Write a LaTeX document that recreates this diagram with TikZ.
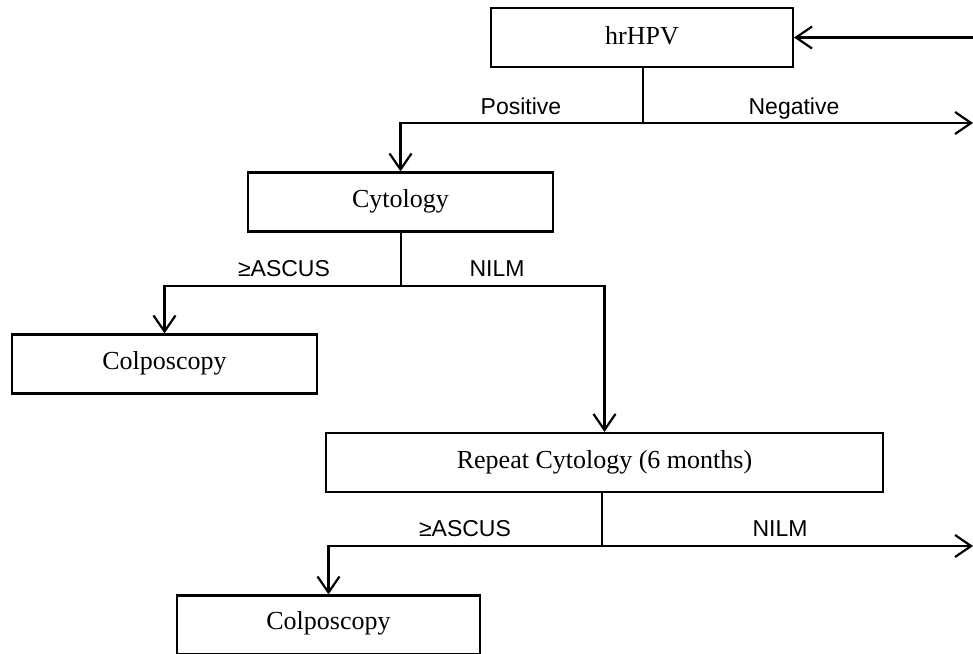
\documentclass[tikz,border=0pt]{standalone}
\usepackage{fontspec}
\setmainfont{Liberation Serif}
\newfontfamily\labelfont{Liberation Sans}
\usetikzlibrary{arrows.meta}
\usetikzlibrary{calc}
\tikzset{
	test box/.style={draw, line width=2.2pt, rectangle, minimum height=59pt, inner sep=0pt, font=\fontsize{26}{30}\selectfont, text depth=0pt, anchor=center},
	branch label/.style={font=\labelfont\fontsize{23}{27}\selectfont, inner sep=0pt, anchor=base},
	flow/.style={line width=2.2pt, -{Straight Barb[length=16pt,width=22pt,line width=2.2pt]}},
	trunk/.style={line width=2.2pt},
}

\begin{document}
\begin{tikzpicture}[x=1pt,y=-1pt]
	\useasboundingbox (0,0) rectangle (973,653);
	\clip (0,0) rectangle (973,653);
	% boxes
	\node[test box, minimum width=302pt] (hr) at (642,37.5) {\raisebox{5pt}{hrHPV}};
	\node[test box, minimum width=305pt] (cyto) at (400.5,202) {\raisebox{7pt}{Cytology}};
	\node[test box, minimum width=305pt] (colpoA) at (164.5,364) {\raisebox{7pt}{Colposcopy}};
	\node[test box, minimum width=557pt] (rep) at (604.5,462.5) {\raisebox{6pt}{Repeat Cytology (6 months)}};
	\node[test box, minimum width=303pt] (colpoB) at (328.5,625) {\raisebox{10pt}{Colposcopy}};
	% forks and loose ends
	\coordinate (forkA) at (643,123);
	\coordinate (forkB) at (401,286);
	\coordinate (forkC) at (602,546);
	\coordinate (negEnd) at (973,123);
	\coordinate (nilmEnd) at (973,546);
	% hrHPV
	\draw[flow] (hr.east -| negEnd) -- (hr.east);
	\draw[trunk] (hr.south -| forkA) -- (forkA);
	\draw[flow] (forkA) -| (cyto.north);
	\draw[flow] (forkA) -- (negEnd);
	\node[branch label] (pos) at (521,114) {Positive};
	\node[branch label] (neg) at (794,114) {Negative};
	% cytology
	\draw[trunk] (cyto.south -| forkB) -- (forkB);
	\draw[flow] (forkB) -| (colpoA.north);
	\draw[flow] (forkB) -| (rep.north);
	\node[branch label] (ascA) at (284,276) {≥ASCUS};
	\node[branch label] (nilmA) at (497,276) {NILM};
	% repeat cytology
	\draw[trunk] (rep.south -| forkC) -- (forkC);
	\draw[flow] (forkC) -| (colpoB.north);
	\draw[flow] (forkC) -- (nilmEnd);
	\node[branch label] (ascB) at (465,536) {≥ASCUS};
	\node[branch label] (nilmB) at (780,536) {NILM};
\end{tikzpicture}
\end{document}
